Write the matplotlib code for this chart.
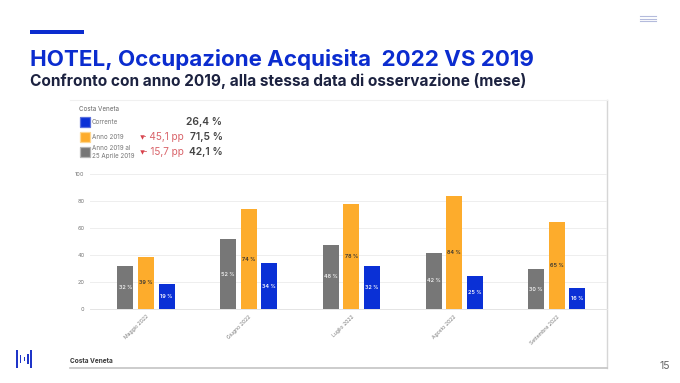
import matplotlib
matplotlib.use('Agg')
import matplotlib.pyplot as plt
from matplotlib.patches import Rectangle
import numpy as np

W, H = 680, 383

months = ['Maggio 2022', 'Giugno 2022', 'Luglio 2022', 'Agosto 2022', 'Settembre 2022']
anno_2019_al = [32, 52, 48, 42, 30]
anno_2019 = [39, 74, 78, 84, 65]
corrente = [19, 34, 32, 25, 16]
y_ticks = [0, 20, 40, 60, 80, 100]

legend_names = ['Corrente', 'Anno 2019', 'Anno 2019 al\n25 Aprile 2019']
legend_values = ['26,4 %', '71,5 %', '42,1 %']
legend_deltas = ['', '- 45,1 pp', '- 15,7 pp']

BLUE = '#0a30d6'
ORANGE = '#fdac2c'
GREY = '#777777'
TITLE_BLUE = '#0b2ccf'
DARK = '#1c2240'

plt.rcParams['font.family'] = ['Inter', 'DejaVu Sans']

fig = plt.figure(figsize=(W / 100, H / 100), dpi=100, facecolor='white')

# overlay in pixel coordinates for the slide furniture
bg = fig.add_axes([0, 0, 1, 1])
bg.set_xlim(0, W)
bg.set_ylim(H, 0)
bg.axis('off')

bg.add_patch(Rectangle((30, 30), 54, 3.5, color=TITLE_BLUE, lw=0))
for yy in [16, 18.5, 21]:
    bg.plot([640, 656], [yy, yy], color='#b4bbdc', lw=0.8)

bg.text(30, 59, 'HOTEL, Occupazione Acquisita  2022 VS 2019', fontsize=16.1,
        fontweight='bold', color=TITLE_BLUE, va='center')
bg.text(30, 81, 'Confronto con anno 2019, alla stessa data di osservazione (mese)',
        fontsize=11.1, fontweight='bold', color=DARK, va='center')

# panel edges
bg.plot([607, 607], [100, 368], color='#d6d6d6', lw=1)
bg.plot([70, 607], [368, 368], color='#c4c4c4', lw=1.2)
bg.plot([70, 607], [100, 100], color='#f0f0f0', lw=0.8)

bg.text(79, 109, 'Costa Veneta', fontsize=4.5, color='#666666', va='center')
bg.text(70, 361, 'Costa Veneta', fontsize=4.7, fontweight='bold', color='#3a3a3a', va='center')
bg.text(665, 366, '15', fontsize=7.5, color='#666666', ha='center', va='center')

# legend block
rows_y = [122, 137, 152]
box_colors = [BLUE, ORANGE, GREY]
edge_colors = ['#5a6fdc', '#fed68f', '#b5b5b5']
for i in range(3):
    bg.add_patch(Rectangle((79.5, rows_y[i] - 5), 10, 10, facecolor=box_colors[i],
                           edgecolor=edge_colors[i], lw=0.9))
    bg.text(92, rows_y[i], legend_names[i], fontsize=4.5, color='#777777', va='center',
            linespacing=1.3)
    bg.text(222.5, rows_y[i], legend_values[i], fontsize=7.4, fontweight='semibold',
            color='#444444', ha='right', va='center')
    if legend_deltas[i]:
        bg.text(183.5, rows_y[i], legend_deltas[i], fontsize=7.2, color='#d9646a',
                ha='right', va='center')
        bg.plot([141.5], [rows_y[i] - 0.5], marker='v', ms=3.2, color='#d8404a', mew=0)

# logo
for x0, y0, bw, h in [(15.5, 350, 2.4, 18), (19.5, 355, 1.8, 8), (23.5, 357, 1.8, 4),
                      (27.2, 354, 1.8, 10), (30, 350, 2.4, 18)]:
    bg.add_patch(Rectangle((x0, y0), bw, h, color='#1f35c8', lw=0))

# chart
ax = fig.add_axes([90 / W, 1 - 309.3 / H, (607 - 90) / W, 135 / H])
ax.patch.set_alpha(0)
x = np.arange(len(months))
width = 0.156
offset = 0.2

series = [(anno_2019_al, GREY, -offset, '#f2f2f2'),
          (anno_2019, ORANGE, 0, '#333333'),
          (corrente, BLUE, offset, 'white')]
for values, color, off, label_color in series:
    bars = ax.bar(x + off, values, width, color=color, zorder=3)
    for b, v in zip(bars, values):
        ax.text(b.get_x() + b.get_width() / 2, v / 2, f'{v} %', fontsize=3.9, color=label_color,
                ha='center', va='center', zorder=4, fontweight='semibold')

ax.set_xlim(-0.545, 4.489)
ax.set_ylim(0, 100)
ax.set_yticks(y_ticks)
ax.set_xticks(x)
ax.set_xticklabels(months, rotation=45, ha='right', rotation_mode='anchor', fontsize=3.7,
                   color='#777777')
ax.tick_params(axis='both', length=0)
ax.tick_params(axis='x', pad=3.5)
ax.tick_params(axis='y', labelsize=4.0, labelcolor='#777777', pad=4)
ax.grid(axis='y', color='#eeeeee', lw=0.7, zorder=0)
for s in ['top', 'right', 'left']:
    ax.spines[s].set_visible(False)
ax.spines['bottom'].set_color('#e4e4e4')
ax.spines['bottom'].set_linewidth(0.7)

fig.savefig('out.png', dpi=100)
